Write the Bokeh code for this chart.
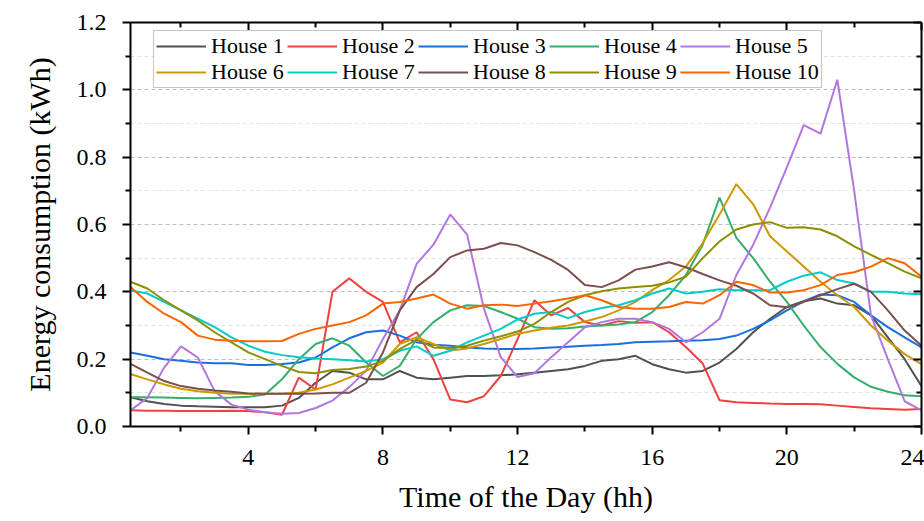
from bokeh.plotting import figure
from bokeh.models import Range1d, FixedTicker, LinearAxis, NumeralTickFormatter
from bokeh.embed import file_html
from bokeh.resources import INLINE

hours = [0.5, 1.0, 1.5, 2.0, 2.5, 3.0, 3.5, 4.0, 4.5, 5.0, 5.5, 6.0,
         6.5, 7.0, 7.5, 8.0, 8.5, 9.0, 9.5, 10.0, 10.5, 11.0, 11.5, 12.0,
         12.5, 13.0, 13.5, 14.0, 14.5, 15.0, 15.5, 16.0, 16.5, 17.0, 17.5, 18.0,
         18.5, 19.0, 19.5, 20.0, 20.5, 21.0, 21.5, 22.0, 22.5, 23.0, 23.5, 24.0]

house1 = [0.087, 0.075, 0.067, 0.062, 0.060, 0.059, 0.057, 0.057, 0.057, 0.062, 0.085, 0.130,
          0.165, 0.160, 0.140, 0.140, 0.165, 0.145, 0.140, 0.145, 0.150, 0.150, 0.152, 0.155,
          0.160, 0.165, 0.170, 0.180, 0.195, 0.200, 0.210, 0.185, 0.170, 0.160, 0.165, 0.190,
          0.230, 0.280, 0.320, 0.355, 0.372, 0.380, 0.365, 0.360, 0.330, 0.265, 0.200, 0.120]
house2 = [0.048, 0.047, 0.047, 0.046, 0.046, 0.046, 0.047, 0.046, 0.042, 0.035, 0.145, 0.110,
          0.400, 0.440, 0.400, 0.370, 0.250, 0.280, 0.200, 0.080, 0.072, 0.090, 0.150, 0.260,
          0.375, 0.330, 0.352, 0.310, 0.300, 0.313, 0.308, 0.310, 0.280, 0.236, 0.187, 0.078,
          0.072, 0.070, 0.068, 0.067, 0.067, 0.066, 0.062, 0.058, 0.054, 0.052, 0.050, 0.052]
house3 = [0.220, 0.210, 0.200, 0.195, 0.190, 0.188, 0.188, 0.183, 0.183, 0.186, 0.190, 0.205,
          0.235, 0.262, 0.280, 0.285, 0.270, 0.250, 0.243, 0.240, 0.235, 0.232, 0.230, 0.230,
          0.232, 0.235, 0.237, 0.240, 0.242, 0.245, 0.250, 0.252, 0.253, 0.255, 0.256, 0.260,
          0.270, 0.290, 0.315, 0.345, 0.372, 0.392, 0.390, 0.370, 0.330, 0.295, 0.265, 0.235]
house4 = [0.087, 0.087, 0.086, 0.085, 0.084, 0.085, 0.086, 0.088, 0.095, 0.140, 0.200, 0.245,
          0.262, 0.240, 0.190, 0.150, 0.180, 0.260, 0.310, 0.345, 0.360, 0.358, 0.340, 0.320,
          0.295, 0.290, 0.292, 0.297, 0.300, 0.303, 0.310, 0.340, 0.390, 0.450, 0.540, 0.680,
          0.560, 0.500, 0.430, 0.370, 0.300, 0.236, 0.186, 0.146, 0.118, 0.103, 0.093, 0.090]
house5 = [0.048, 0.085, 0.175, 0.238, 0.205, 0.105, 0.065, 0.050, 0.042, 0.038, 0.040, 0.055,
          0.077, 0.117, 0.166, 0.260, 0.345, 0.483, 0.540, 0.630, 0.570, 0.350, 0.206, 0.147,
          0.158, 0.206, 0.250, 0.295, 0.310, 0.320, 0.320, 0.310, 0.290, 0.250, 0.280, 0.320,
          0.450, 0.540, 0.650, 0.770, 0.895, 0.870, 1.030, 0.700, 0.330, 0.200, 0.075, 0.048]
house6 = [0.156, 0.140, 0.125, 0.112, 0.105, 0.100, 0.097, 0.097, 0.097, 0.098, 0.100, 0.110,
          0.125, 0.145, 0.165, 0.190, 0.245, 0.265, 0.245, 0.226, 0.232, 0.245, 0.260, 0.275,
          0.285, 0.293, 0.300, 0.312, 0.325, 0.345, 0.370, 0.405, 0.435, 0.475, 0.545, 0.630,
          0.720, 0.660, 0.565, 0.520, 0.475, 0.430, 0.390, 0.355, 0.300, 0.255, 0.215, 0.185]
house7 = [0.404, 0.395, 0.370, 0.345, 0.320, 0.295, 0.265, 0.240, 0.222, 0.212, 0.206, 0.202,
          0.200, 0.197, 0.193, 0.200, 0.225, 0.238, 0.210, 0.225, 0.250, 0.270, 0.290, 0.318,
          0.335, 0.340, 0.322, 0.340, 0.352, 0.360, 0.375, 0.395, 0.410, 0.395, 0.400, 0.408,
          0.405, 0.405, 0.405, 0.430, 0.448, 0.458, 0.435, 0.425, 0.400, 0.400, 0.395, 0.393]
house8 = [0.186, 0.160, 0.135, 0.120, 0.112, 0.107, 0.103, 0.098, 0.097, 0.097, 0.097, 0.098,
          0.100, 0.100, 0.130, 0.220, 0.345, 0.414, 0.453, 0.503, 0.523, 0.528, 0.545, 0.538,
          0.518, 0.495, 0.465, 0.420, 0.414, 0.434, 0.466, 0.475, 0.488, 0.473, 0.453, 0.434,
          0.418, 0.395, 0.360, 0.354, 0.370, 0.390, 0.408, 0.424, 0.400, 0.345, 0.285, 0.240]
house9 = [0.430, 0.410, 0.375, 0.345, 0.315, 0.280, 0.250, 0.220, 0.200, 0.180, 0.162, 0.158,
          0.168, 0.171, 0.178, 0.195, 0.230, 0.258, 0.235, 0.233, 0.240, 0.255, 0.268, 0.282,
          0.305, 0.340, 0.370, 0.390, 0.402, 0.410, 0.414, 0.418, 0.428, 0.445, 0.500, 0.550,
          0.585, 0.600, 0.607, 0.590, 0.592, 0.585, 0.565, 0.535, 0.510, 0.485, 0.460, 0.440]
house10 = [0.414, 0.370, 0.335, 0.310, 0.270, 0.258, 0.255, 0.253, 0.253, 0.254, 0.275, 0.290,
           0.300, 0.310, 0.330, 0.365, 0.370, 0.380, 0.392, 0.365, 0.350, 0.360, 0.362, 0.358,
           0.365, 0.372, 0.380, 0.390, 0.375, 0.355, 0.350, 0.350, 0.355, 0.370, 0.365, 0.390,
           0.430, 0.420, 0.398, 0.398, 0.405, 0.420, 0.450, 0.458, 0.475, 0.500, 0.485, 0.445]

labels = ["House 1", "House 2", "House 3", "House 4", "House 5",
          "House 6", "House 7", "House 8", "House 9", "House 10"]
series = [house1, house2, house3, house4, house5, house6, house7, house8, house9, house10]
colors = ["#515151", "#F14040", "#1A6FDF", "#37AD6B", "#B177DE",
          "#CC9900", "#00CBCC", "#7D4E4E", "#8E8E00", "#FB6501"]

x_ticks = [4, 8, 12, 16, 20, 24]
x_minor = [2, 6, 10, 14, 18, 22]
y_ticks = [0.0, 0.2, 0.4, 0.6, 0.8, 1.0, 1.2]
y_minor = [0.1, 0.3, 0.5, 0.7, 0.9, 1.1]

FONT = "Liberation Serif"

p = figure(width=924, height=521, output_backend="svg", toolbar_location=None,
           x_range=Range1d(0.5, 24.0), y_range=Range1d(0.0, 1.2),
           min_border_left=130, min_border_right=3, min_border_top=22, min_border_bottom=95)
p.outline_line_color = None
p.background_fill_color = "white"

for ys, lab, c in zip(series, labels, colors):
    p.line(hours, ys, line_color=c, line_width=2, legend_label=lab)

xt = FixedTicker(ticks=x_ticks, minor_ticks=x_minor)
yt = FixedTicker(ticks=y_ticks, minor_ticks=y_minor)

# main axes
xa = p.xaxis[0]
xa.ticker = xt
ya = p.yaxis[0]
ya.ticker = yt
ya.formatter = NumeralTickFormatter(format="0.0")
for ax in (xa, ya):
    ax.axis_line_width = 2
    ax.axis_line_color = "black"
    ax.major_tick_line_width = 2
    ax.minor_tick_line_width = 2
    ax.major_tick_line_color = "black"
    ax.minor_tick_line_color = "black"
    ax.major_tick_in = 0
    ax.major_tick_out = 8
    ax.minor_tick_in = 0
    ax.minor_tick_out = 5
    ax.major_label_text_font = FONT
    ax.major_label_text_font_size = "24px"
    ax.major_label_text_color = "black"
    ax.axis_label_text_font = FONT
    ax.axis_label_text_font_size = "30px"
    ax.axis_label_text_font_style = "normal"
    ax.axis_label_text_color = "black"
xa.axis_label = "Time of the Day (hh)"
ya.axis_label = "Energy consumption (kWh)"
xa.major_label_standoff = 15
ya.major_label_standoff = 16
xa.axis_label_standoff = 12
ya.axis_label_standoff = 18

# mirrored axes (top, right) with inward ticks, no labels
top = LinearAxis(ticker=FixedTicker(ticks=x_ticks, minor_ticks=x_minor))
right = LinearAxis(ticker=FixedTicker(ticks=y_ticks, minor_ticks=y_minor))
for ax in (top, right):
    ax.axis_line_width = 2
    ax.axis_line_color = "black"
    ax.major_tick_line_width = 2
    ax.minor_tick_line_width = 2
    ax.major_tick_in = 8
    ax.major_tick_out = 0
    ax.minor_tick_in = 5
    ax.minor_tick_out = 0
    ax.major_label_text_font_size = "0px"
    ax.major_label_text_color = None
    ax.major_label_standoff = 0
p.add_layout(top, "above")
p.add_layout(right, "right")

# grids
p.xgrid.visible = False
p.ygrid.ticker = yt
p.ygrid.grid_line_color = "#bdbdbd"
p.ygrid.grid_line_dash = "4 3"
p.ygrid.grid_line_width = 1
p.ygrid.minor_grid_line_color = "#e2e2e2"
p.ygrid.minor_grid_line_dash = "4 3"
p.ygrid.minor_grid_line_width = 1

lg = p.legend[0]
lg.orientation = "horizontal"
lg.ncols = 5
lg.location = (23, 338)
lg.label_text_font = FONT
lg.label_text_font_size = "22px"
lg.label_text_color = "black"
lg.glyph_width = 50
lg.glyph_height = 26
lg.label_height = 26
lg.label_width = 76
lg.label_standoff = 5
lg.spacing = 0
lg.padding = 2
lg.margin = 0
lg.border_line_color = "#8c8c8c"
lg.border_line_width = 1
lg.background_fill_color = "white"
lg.background_fill_alpha = 1.0

open("out.html", "w").write(file_html(p, INLINE))
